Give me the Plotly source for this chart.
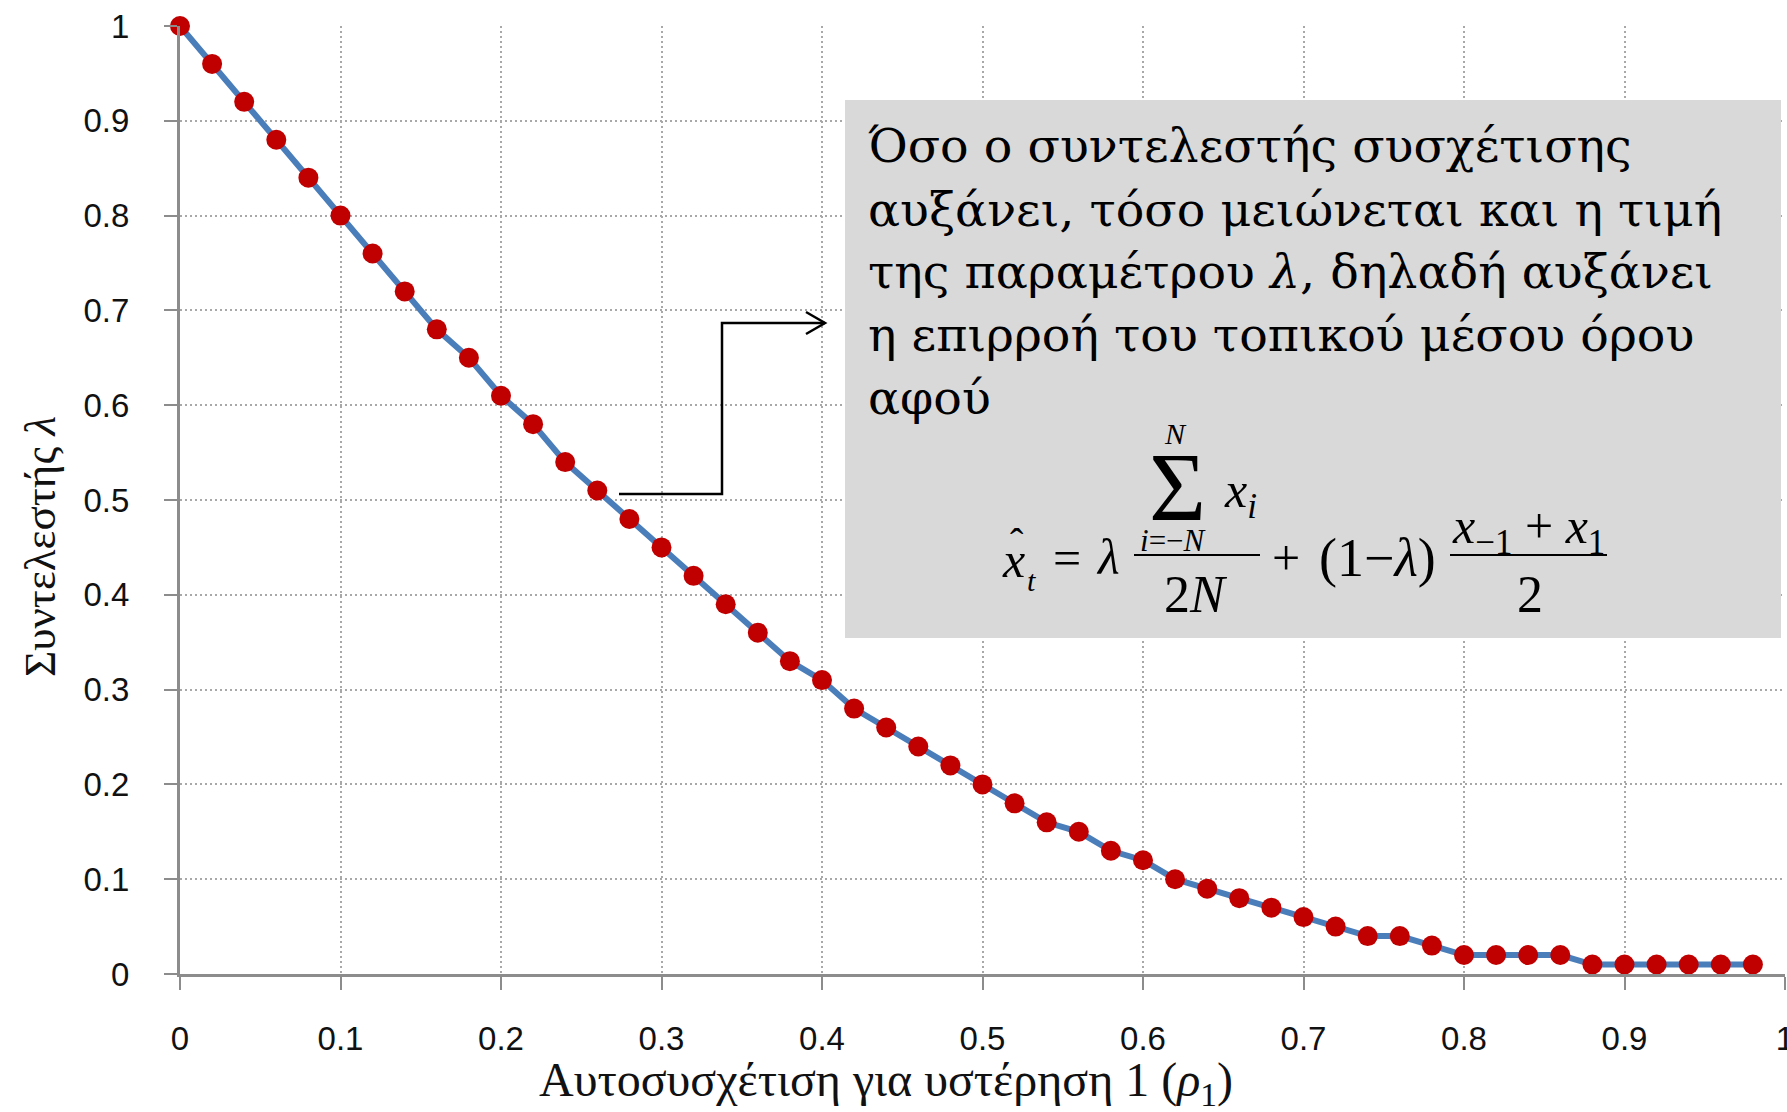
import plotly.graph_objects as go

# Lag-1 autocorrelation values and the fitted weighting coefficient lambda
rho = [0.00, 0.02, 0.04, 0.06, 0.08, 0.10, 0.12, 0.14, 0.16, 0.18,
       0.20, 0.22, 0.24, 0.26, 0.28, 0.30, 0.32, 0.34, 0.36, 0.38,
       0.40, 0.42, 0.44, 0.46, 0.48, 0.50, 0.52, 0.54, 0.56, 0.58,
       0.60, 0.62, 0.64, 0.66, 0.68, 0.70, 0.72, 0.74, 0.76, 0.78,
       0.80, 0.82, 0.84, 0.86, 0.88, 0.90, 0.92, 0.94, 0.96, 0.98]
lam = [1.00, 0.96, 0.92, 0.88, 0.84, 0.80, 0.76, 0.72, 0.68, 0.65,
       0.61, 0.58, 0.54, 0.51, 0.48, 0.45, 0.42, 0.39, 0.36, 0.33,
       0.31, 0.28, 0.26, 0.24, 0.22, 0.20, 0.18, 0.16, 0.15, 0.13,
       0.12, 0.10, 0.09, 0.08, 0.07, 0.06, 0.05, 0.04, 0.04, 0.03,
       0.02, 0.02, 0.02, 0.02, 0.01, 0.01, 0.01, 0.01, 0.01, 0.01]

tick_vals = [0, 0.1, 0.2, 0.3, 0.4, 0.5, 0.6, 0.7, 0.8, 0.9, 1]

x_title = "Αυτοσυσχέτιση για υστέρηση 1 (<i>ρ</i><sub>1</sub>)"
y_title = "Συντελεστής <i>λ</i>"
note_lines = [
    "Όσο ο συντελεστής συσχέτισης",
    "αυξάνει, τόσο μειώνεται και η τιμή",
    "της παραμέτρου <i>λ</i>, δηλαδή αυξάνει",
    "η επιρροή του τοπικού μέσου όρου",
    "αφού",
]

W, H = 1787, 1112
ML, MR, MT, MB = 180, 2, 26, 138
PW, PH = W - ML - MR, H - MT - MB


def px2x(px):
    return (px - ML) / PW


def py2y(py):
    return (H - MB - py) / PH


fig = go.Figure()
fig.add_trace(go.Scatter(
    x=rho, y=lam, mode="lines+markers",
    line=dict(color="#4a7ebb", width=6),
    marker=dict(color="#c00000", size=20, line=dict(width=0)),
    cliponaxis=False, showlegend=False,
))

grid = dict(showgrid=True, gridcolor="#a8a8a8", gridwidth=2, griddash="2px,3px")
axis_common = dict(
    range=[0, 1], tickvals=tick_vals, ticks="outside", ticklen=13,
    tickwidth=2, tickcolor="#8c8c8c", showline=True, linecolor="#8c8c8c",
    linewidth=3, zeroline=False, ticklabeloverflow="allow", automargin=False,
    tickfont=dict(family="Liberation Sans", size=33, color="#111111"),
    **grid,
)

fig.update_layout(
    width=W, height=H,
    margin=dict(l=ML, r=MR, t=MT, b=MB, autoexpand=False),
    paper_bgcolor="white", plot_bgcolor="white",
    xaxis=dict(axis_common, ticklabelstandoff=20),
    yaxis=dict(axis_common, ticklabelstandoff=28),
)

serif = "Liberation Serif"
anns = []
# axis titles
anns.append(dict(text=x_title, xref="paper", yref="paper", x=px2x(886), y=py2y(1083),
                 xanchor="center", yanchor="middle", showarrow=False,
                 font=dict(family=serif, size=48, color="#111111")))
anns.append(dict(text=y_title, xref="paper", yref="paper", x=px2x(40), y=py2y(547),
                 xanchor="center", yanchor="middle", textangle=-90, showarrow=False,
                 font=dict(family=serif, size=45, color="#111111")))

# explanatory note inside the grey box
note_font = "DejaVu Serif"
note_size = 47.5
baselines = [162, 226, 288, 351, 414]
for line, base in zip(note_lines, baselines):
    anns.append(dict(text=line, xref="x", yref="y", x=px2x(866),
                     y=py2y(base - 0.35 * note_size), xanchor="left", yanchor="middle",
                     showarrow=False, font=dict(family=note_font, size=note_size, color="black")))


def piece(text, cx, cy, size):
    anns.append(dict(text=text, xref="x", yref="y", x=px2x(cx), y=py2y(cy),
                     xanchor="center", yanchor="middle", showarrow=False,
                     font=dict(family=serif, size=size, color="black")))


# smoothing formula, built piece by piece
piece("<i>x</i>", 1013, 560, 50)
piece("ˆ", 1017, 542, 40)
piece("<i>t</i>", 1031, 580, 30)
piece("=", 1067, 558, 50)
piece("<i>λ</i>", 1108, 557, 50)
piece("<i>N</i>", 1175, 433, 30)
piece("Σ", 1177, 487, 98)
piece("<i>x</i><sub><i>i</i></sub>", 1240, 494, 50)
piece("<i>i</i>=−<i>N</i>", 1173, 540, 31)
piece("2<i>N</i>", 1196, 594, 52)
piece("+", 1286, 558, 50)
piece("(1−<i>λ</i>)", 1377, 558, 54)
piece("<i>x</i><sub>−1</sub> + <i>x</i><sub>1</sub>", 1528, 530, 50)
piece("2", 1530, 594, 52)

fig.update_layout(annotations=anns)

shapes = []
# grey note box
shapes.append(dict(type="rect", xref="x", yref="y", x0=px2x(845), x1=px2x(1781),
                   y0=py2y(638), y1=py2y(100), fillcolor="#d9d9d9",
                   line=dict(width=0), layer="above"))
# fraction bars
for x0, x1 in [(1134, 1260), (1450, 1607)]:
    shapes.append(dict(type="line", xref="x", yref="y", x0=px2x(x0), x1=px2x(x1),
                       y0=py2y(555), y1=py2y(555), line=dict(color="black", width=2),
                       layer="above"))
# elbow connector pointing at the note
elbow = [(619, 494), (722, 494), (722, 323), (825, 323)]
path = "M " + " L ".join(f"{px2x(a)},{py2y(b)}" for a, b in elbow)
shapes.append(dict(type="path", xref="x", yref="y", path=path,
                   line=dict(color="black", width=2.5), layer="above"))
head = [(806, 312), (825, 323), (806, 334)]
path = "M " + " L ".join(f"{px2x(a)},{py2y(b)}" for a, b in head)
shapes.append(dict(type="path", xref="x", yref="y", path=path,
                   line=dict(color="black", width=2.5), layer="above"))
fig.update_layout(shapes=shapes)

fig.write_html("out.html")
